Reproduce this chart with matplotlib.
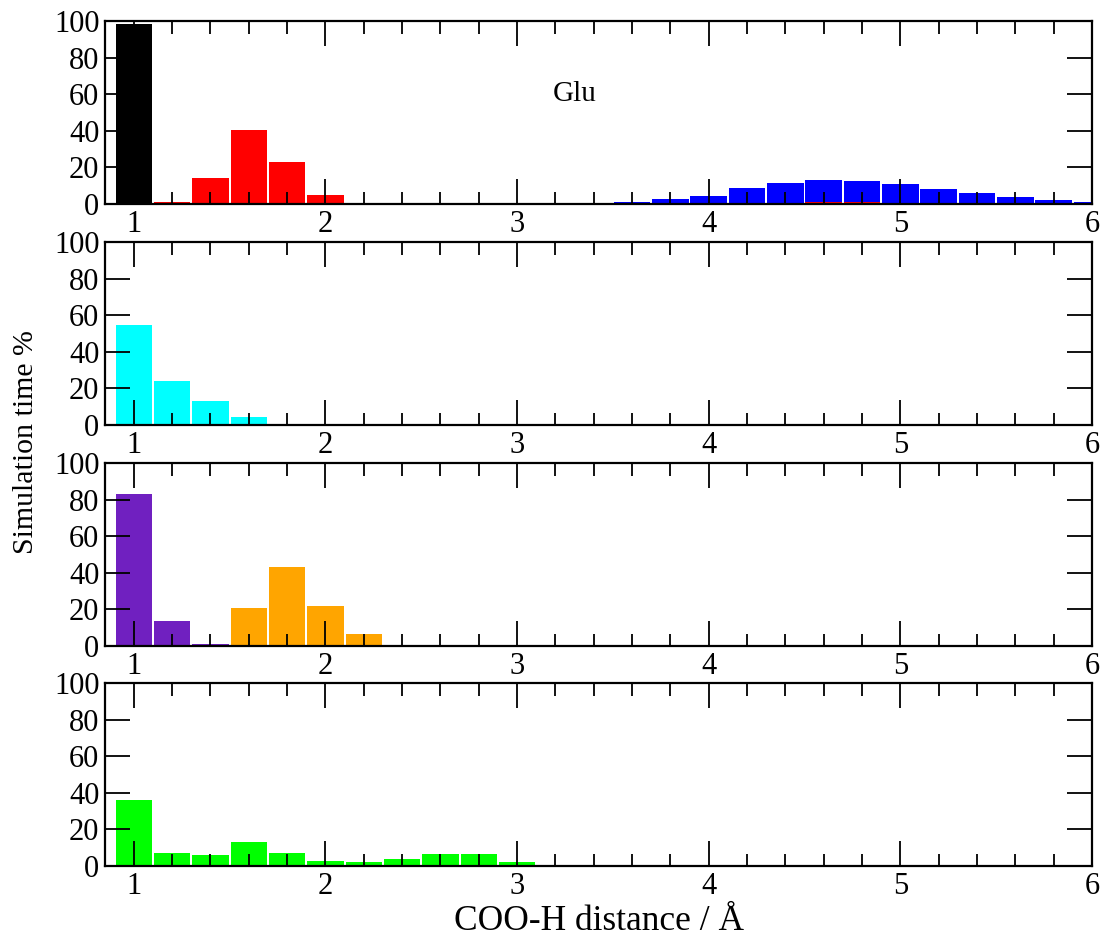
import matplotlib
matplotlib.use('Agg')
from matplotlib import pyplot as plt
from matplotlib.ticker import MultipleLocator
import numpy as np

# bin centres (bin width 0.2)
glu_black_x = [1.0]
glu_black_y = [98.2]
glu_red_x = [1.2, 1.4, 1.6, 1.8, 2.0, 2.2, 4.4, 4.6, 4.8]
glu_red_y = [1.0, 14.1, 40.4, 22.9, 4.9, 0.5, 0.5, 1.2, 1.2]
glu_blue_x = [3.6, 3.8, 4.0, 4.2, 4.4, 4.6, 4.8, 5.0, 5.2, 5.4, 5.6, 5.8, 6.0]
glu_blue_y = [1.1, 2.6, 4.4, 8.6, 11.7, 13.0, 12.6, 10.8, 8.2, 6.2, 3.8, 2.2, 1.1]

cyan_x = [1.0, 1.2, 1.4, 1.6, 1.8]
cyan_y = [54.8, 24.1, 13.0, 4.6, 0.4]

purple_x = [1.0, 1.2, 1.4]
purple_y = [82.9, 13.5, 1.3]
orange_x = [1.6, 1.8, 2.0, 2.2, 2.4]
orange_y = [21.0, 43.3, 22.1, 6.4, 0.7]

green_x = [1.0, 1.2, 1.4, 1.6, 1.8, 2.0, 2.2, 2.4, 2.6, 2.8, 3.0]
green_y = [36.2, 7.1, 6.0, 13.2, 7.3, 2.7, 2.2, 3.7, 6.8, 6.8, 2.2]

panels = [
    [(glu_blue_x, glu_blue_y, '#0000ff'),
     (glu_red_x, glu_red_y, '#ff0000'),
     (glu_black_x, glu_black_y, '#000000')],
    [(cyan_x, cyan_y, '#00ffff')],
    [(purple_x, purple_y, '#7020c0'),
     (orange_x, orange_y, '#ffa500')],
    [(green_x, green_y, '#00ff00')],
]


def main():
    plt.rcParams['font.family'] = ['Liberation Serif', 'DejaVu Serif']
    W, H = 1103, 942
    fig = plt.figure(figsize=(W / 100, H / 100), dpi=100)

    left = 105 / W
    width = (1092 - 105) / W
    tops = [21, 242, 463, 683]
    ph = 183

    axes = []
    for i, series in enumerate(panels):
        bottom = 1 - (tops[i] + ph) / H
        ax = fig.add_axes([left, bottom, width, ph / H])
        for xs, ys, c in series:
            ax.bar(xs, ys, width=0.19, color=c, linewidth=0, align='center')
        ax.set_xlim(0.85, 6.0)
        ax.set_ylim(0, 100)
        ax.xaxis.set_major_locator(MultipleLocator(1))
        ax.xaxis.set_minor_locator(MultipleLocator(0.2))
        ax.yaxis.set_major_locator(MultipleLocator(20))
        ax.tick_params(axis='both', which='major', direction='in', length=18,
                       width=1.3, labelsize=22, top=True, right=True, pad=4)
        ax.tick_params(axis='x', which='minor', direction='in', length=9,
                       width=1.3, top=True)
        for s in ax.spines.values():
            s.set_linewidth(1.6)
        axes.append(ax)

    axes[0].text(3.3, 60, 'Glu', fontsize=21, ha='center', va='center')
    fig.text((left + width / 2), 1 - 921 / H, 'COO-H distance / Å',
             fontsize=25.5, ha='center', va='center')
    fig.text(26 / W, 1 - 442 / H, 'Simulation time %', rotation=90,
             fontsize=21.5, ha='center', va='center')

    plt.savefig('out.png', dpi=100)


if __name__ == '__main__':
    main()
